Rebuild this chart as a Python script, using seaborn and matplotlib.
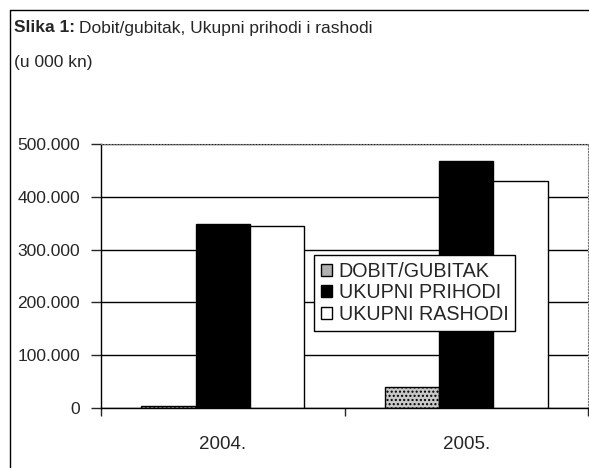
import numpy as np
import pandas as pd
import matplotlib
matplotlib.use("Agg")
import matplotlib.pyplot as plt
import seaborn as sns
from matplotlib.ticker import FuncFormatter, MultipleLocator

# data (u 000 kn)
years = ["2004.", "2005."]
series = ["DOBIT/GUBITAK", "UKUPNI PRIHODI", "UKUPNI RASHODI"]
dobit = [3000, 40000]
prihodi = [348000, 468000]
rashodi = [345000, 430000]

df = pd.DataFrame({
    "godina": years * 3,
    "serija": np.repeat(series, len(years)),
    "iznos": dobit + prihodi + rashodi,
})

sns.set_style("white")
plt.rcParams["font.family"] = ["Liberation Sans", "DejaVu Sans"]

fig = plt.figure(figsize=(5.89, 4.68), dpi=100)
ax = fig.add_axes([101 / 589, 1 - 408 / 468, 487 / 589, 264 / 468])

sns.barplot(data=df, x="godina", y="iznos", hue="serija", order=years,
            hue_order=series, palette=["#b0b0b0", "black", "white"],
            width=0.67, gap=0, edgecolor="black", linewidth=1,
            ax=ax, legend=True)

# dotted fill for the first series
for p in ax.containers[0]:
    p.set_hatch("....")
    p.set_facecolor("#c8c8c8")

ax.set_ylim(0, 500000)
ax.set_xlim(-0.5, 1.5)
ax.yaxis.set_major_locator(MultipleLocator(100000))
ax.yaxis.set_major_formatter(FuncFormatter(
    lambda v, _: "0" if v == 0 else f"{v/1000:.0f}.000"))
ax.grid(axis="y", color="black", linewidth=1)
ax.set_axisbelow(True)
ax.set_xlabel("")
ax.set_ylabel("")

for s in ["top", "right"]:
    ax.spines[s].set_linestyle(":")
    ax.spines[s].set_color("#777777")
for s in ["left", "bottom"]:
    ax.spines[s].set_color("black")
    ax.spines[s].set_linewidth(1)

ax.tick_params(axis="y", left=True, length=7, width=1, labelsize=12.5, pad=8)
ax.tick_params(axis="x", bottom=False, labelsize=13.5, pad=17)
# category boundary ticks on x
ax.set_xticks([-0.5, 0.5, 1.5], minor=True)
ax.tick_params(axis="x", which="minor", bottom=True, length=6, width=1)

leg = ax.legend(loc="upper left", bbox_to_anchor=((314 - 101) / 487, 1 - (255 - 144) / 264),
                borderaxespad=0, frameon=True, fancybox=False, edgecolor="black",
                framealpha=1, fontsize=14.2, handlelength=0.55, handleheight=0.55,
                handletextpad=0.35, borderpad=0.35, labelspacing=0.12)
leg.get_frame().set_linewidth(1)

# outer frame of the figure box
fig.add_artist(plt.Line2D([10 / 589, 10 / 589], [0, 1 - 10 / 468], color="black", lw=1))
fig.add_artist(plt.Line2D([10 / 589, 1], [1 - 10 / 468, 1 - 10 / 468], color="black", lw=1))

# title: bold part, then the rest right after it
bold = fig.text(14 / 589, 1 - 28 / 468, "Slika 1:", fontsize=12.5, fontweight="bold", va="center")
fig.canvas.draw()
x_end = bold.get_window_extent().x1 / fig.bbox.width
fig.text(x_end + 4 / 589, 1 - 28 / 468, "Dobit/gubitak, Ukupni prihodi i rashodi",
         fontsize=12.5, va="center")
fig.text(14 / 589, 1 - 62 / 468, "(u 000 kn)", fontsize=12.5, va="center")

fig.savefig("out.png", dpi=100)
